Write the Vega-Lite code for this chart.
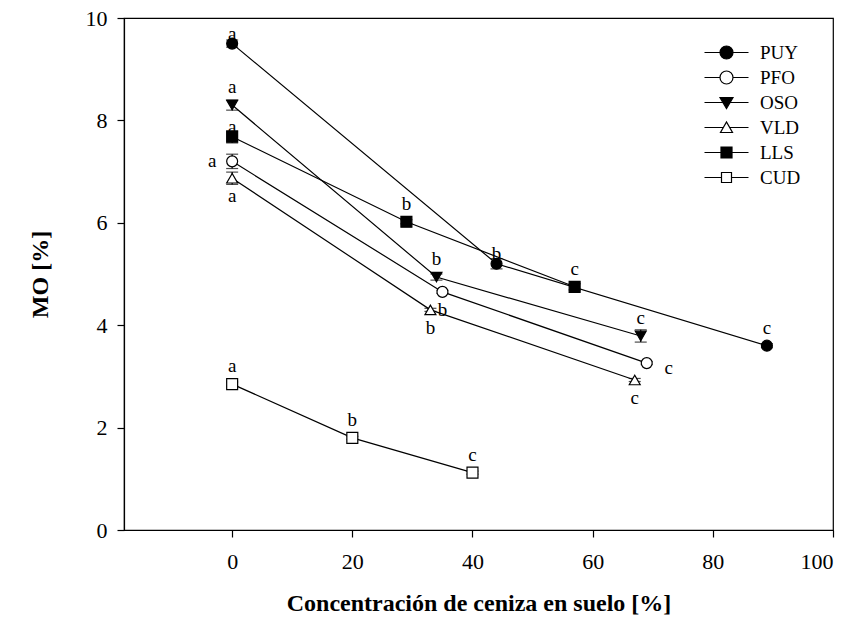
{
  "$schema": "https://vega.github.io/schema/vega-lite/v6.json",
  "width": 709,
  "height": 512,
  "autosize": "none",
  "padding": {"left": 124, "top": 18, "right": 18, "bottom": 90},
  "background": "white",
  "config": {
    "view": {"stroke": "black", "strokeWidth": 1.2},
    "font": "Liberation Serif",
    "text": {"font": "Liberation Serif"},
    "style": {"guide-label": {"font": "Liberation Serif"}, "guide-title": {"font": "Liberation Serif"}},
    "axis": {
      "labelFont": "Liberation Serif", "labelFontSize": 22, "labelColor": "black",
      "titleFont": "Liberation Serif", "titleFontSize": 24, "titleFontWeight": "bold", "titleColor": "black",
      "domainColor": "black", "tickColor": "black", "grid": false, "domainWidth": 1.2, "tickWidth": 1.2
    },
    "legend": {"labelFont": "Liberation Serif", "labelFontSize": 19, "labelColor": "black"}
  },
  "data": {"values": [
    {"s": "PUY", "x": 0, "y": 9.5, "lab": "a", "pos": "nn", "lo": 9.43, "hi": 9.57},
    {"s": "PUY", "x": 44, "y": 5.2, "lab": "b", "pos": "nn", "lo": 5.1, "hi": 5.3},
    {"s": "PUY", "x": 89, "y": 3.6, "lab": "c", "pos": "n", "lo": 3.56, "hi": 3.64},
    {"s": "PFO", "x": 0, "y": 7.2, "lab": "a", "pos": "w", "lo": 7.06, "hi": 7.34},
    {"s": "PFO", "x": 35, "y": 4.65, "lab": "b", "pos": "s", "lo": 4.62, "hi": 4.68},
    {"s": "PFO", "x": 69, "y": 3.26, "lab": "c", "pos": "e", "lo": 3.23, "hi": 3.29},
    {"s": "OSO", "x": 0, "y": 8.3, "lab": "a", "pos": "n", "lo": 8.2, "hi": 8.4},
    {"s": "OSO", "x": 34, "y": 4.94, "lab": "b", "pos": "n", "lo": 4.88, "hi": 5.0},
    {"s": "OSO", "x": 68, "y": 3.79, "lab": "c", "pos": "n", "lo": 3.67, "hi": 3.91},
    {"s": "VLD", "x": 0, "y": 6.87, "lab": "a", "pos": "s", "lo": 6.75, "hi": 6.99},
    {"s": "VLD", "x": 33, "y": 4.3, "lab": "b", "pos": "s", "lo": 4.27, "hi": 4.33},
    {"s": "VLD", "x": 67, "y": 2.93, "lab": "c", "pos": "s", "lo": 2.9, "hi": 2.96},
    {"s": "LLS", "x": 0, "y": 7.68, "lab": "a", "pos": "nn", "lo": 7.56, "hi": 7.8},
    {"s": "LLS", "x": 29, "y": 6.02, "lab": "b", "pos": "n", "lo": 5.98, "hi": 6.06},
    {"s": "LLS", "x": 57, "y": 4.75, "lab": "c", "pos": "n", "lo": 4.69, "hi": 4.81},
    {"s": "CUD", "x": 0, "y": 2.85, "lab": "a", "pos": "n", "lo": 2.81, "hi": 2.89},
    {"s": "CUD", "x": 20, "y": 1.8, "lab": "b", "pos": "n", "lo": 1.77, "hi": 1.83},
    {"s": "CUD", "x": 40, "y": 1.12, "lab": "c", "pos": "n", "lo": 1.09, "hi": 1.15}
  ]},
  "encoding": {
    "x": {"field": "x", "type": "quantitative", "scale": {"domain": [-18, 100], "nice": false, "zero": false},
      "axis": {"values": [0, 20, 40, 60, 80, 100], "title": "Concentración de ceniza en suelo [%]", "tickSize": 7, "labelPadding": 14, "titlePadding": 19, "labelFont": "Liberation Serif", "titleFont": "Liberation Serif"}},
    "y": {"field": "y", "type": "quantitative", "scale": {"domain": [0, 10], "nice": false},
      "axis": {"values": [0, 2, 4, 6, 8, 10], "title": "MO [%]", "tickSize": 7, "labelPadding": 10, "titlePadding": 33, "labelFont": "Liberation Serif", "titleFont": "Liberation Serif"}}
  },
  "layer": [
    {"mark": {"type": "line", "color": "black", "strokeWidth": 1.2},
     "encoding": {"detail": {"field": "s"}}},
    {"mark": {"type": "errorbar", "ticks": {"size": 12, "color": "black"}, "color": "black", "thickness": 1.2},
     "encoding": {"y": {"field": "lo", "type": "quantitative"}, "y2": {"field": "hi"}}},
    {"mark": {"type": "point", "filled": false, "stroke": "black", "strokeWidth": 1.2, "opacity": 1, "size": 120},
     "encoding": {
       "shape": {"field": "s", "scale": {"domain": ["PUY", "PFO", "OSO", "VLD", "LLS", "CUD"], "range": ["circle", "circle", "triangle-down", "triangle-up", "square", "square"]}, "legend": null},
       "fill": {"field": "s", "scale": {"domain": ["PUY", "PFO", "OSO", "VLD", "LLS", "CUD"], "range": ["black", "white", "black", "white", "black", "white"]}, "legend": null}
     }},
    {"mark": {"type": "point", "filled": false, "stroke": "black", "strokeWidth": 1.2, "opacity": 0, "size": 100},
     "encoding": {
       "shape": {"field": "s", "scale": {"domain": ["PUY", "PFO", "OSO", "VLD", "LLS", "CUD"], "range": [
         "M-4.4,0H-1.3M1.3,0H4.4M-1.3,0A1.3,1.3 0 1,0 1.3,0A1.3,1.3 0 1,0 -1.3,0Z",
         "M-4.4,0H-1.3M1.3,0H4.4M-1.3,0A1.3,1.3 0 1,0 1.3,0A1.3,1.3 0 1,0 -1.3,0Z",
         "M-4.4,0H4.4M-1.3,-1H1.3L0,1.2Z",
         "M-4.4,0H-0.6M0.6,0H4.4M-1.2,1L1.2,1L0,-1.1Z",
         "M-4.4,0H-1.1M1.1,0H4.4M-1.1,-1.1H1.1V1.1H-1.1Z",
         "M-4.4,0H-1M1,0H4.4M-1,-1H1V1H-1Z"]},
         "legend": {"title": null, "orient": "none", "legendX": 593, "legendY": 25, "symbolOpacity": 1, "symbolStrokeColor": "black", "symbolStrokeWidth": 1.2, "labelOffset": 24, "rowPadding": 5, "padding": 0, "symbolSize": 100, "labelFont": "Liberation Serif",
           "encode": {"symbols": {"update": {"stroke": {"value": "black"}, "strokeWidth": {"value": 1.2}, "strokeOpacity": {"value": 1}, "opacity": {"value": 1}}}}}},
       "fill": {"field": "s", "scale": {"domain": ["PUY", "PFO", "OSO", "VLD", "LLS", "CUD"], "range": ["black", "white", "black", "white", "black", "white"]},
         "legend": {"title": null, "orient": "none", "legendX": 593, "legendY": 25, "symbolOpacity": 1, "symbolStrokeColor": "black", "symbolStrokeWidth": 1.2, "labelOffset": 24, "rowPadding": 5, "padding": 0, "symbolSize": 100, "labelFont": "Liberation Serif",
           "encode": {"symbols": {"update": {"stroke": {"value": "black"}, "strokeWidth": {"value": 1.2}, "strokeOpacity": {"value": 1}, "opacity": {"value": 1}}}}}}
     }},
    {"transform": [{"filter": "datum.pos == 'n'"}],
     "mark": {"type": "text", "dy": -18, "fontSize": 19, "font": "Liberation Serif", "color": "black", "baseline": "middle"},
     "encoding": {"text": {"field": "lab"}}},
    {"transform": [{"filter": "datum.pos == 'nn'"}],
     "mark": {"type": "text", "dy": -10, "fontSize": 19, "font": "Liberation Serif", "color": "black", "baseline": "middle"},
     "encoding": {"text": {"field": "lab"}}},
    {"transform": [{"filter": "datum.pos == 's'"}],
     "mark": {"type": "text", "dy": 18, "fontSize": 19, "font": "Liberation Serif", "color": "black", "baseline": "middle"},
     "encoding": {"text": {"field": "lab"}}},
    {"transform": [{"filter": "datum.pos == 'w'"}],
     "mark": {"type": "text", "dx": -20, "fontSize": 19, "font": "Liberation Serif", "color": "black", "baseline": "middle"},
     "encoding": {"text": {"field": "lab"}}},
    {"transform": [{"filter": "datum.pos == 'e'"}],
     "mark": {"type": "text", "dx": 22, "dy": 5, "fontSize": 19, "font": "Liberation Serif", "color": "black", "baseline": "middle"},
     "encoding": {"text": {"field": "lab"}}}
  ],
  "resolve": {"scale": {"shape": "independent", "fill": "independent"}}
}
